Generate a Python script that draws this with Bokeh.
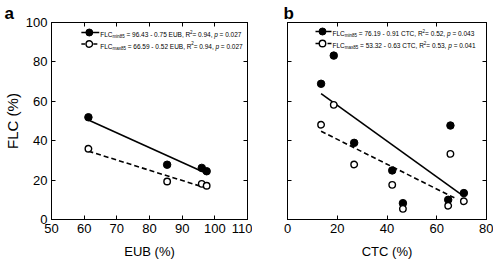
from bokeh.plotting import figure
from bokeh.models import LinearAxis, Range1d, FixedTicker, Label
from bokeh.layouts import row
from bokeh.embed import file_html
from bokeh.resources import INLINE

# ---------------- data ----------------
# Panel a: FLC vs EUB
eub = [61.3, 85.4, 96.0, 97.5]
flc_min85_a = [51.9, 27.8, 26.2, 24.5]
flc_max85_a = [35.9, 19.3, 18.1, 17.1]
fit_a_x = [61.3, 97.5]
fit_min_a = [50.5, 23.3]
fit_max_a = [34.7, 15.9]

# Panel b: FLC vs CTC
ctc = [13.5, 18.6, 26.8, 42.1, 46.4, 64.6, 65.5, 70.9]
flc_min85_b = [68.9, 83.2, 38.9, 24.9, 8.3, 10.0, 47.7, 13.4]
flc_max85_b = [48.1, 58.2, 27.9, 17.6, 5.4, 7.0, 33.3, 9.3]
fit_min_b_x = [13.5, 70.9]
fit_min_b = [63.9, 11.7]
fit_max_b_x = [13.5, 68.2]
fit_max_b = [44.8, 10.3]

xticks_a = [50, 60, 70, 80, 90, 100, 110]
xticks_b = [0, 20, 40, 60, 80]
yticks = [0, 20, 40, 60, 80, 100]

legend_a = [
    [("FLC", "n"), ("min85", "s"), (" = 96.43 - 0.75 EUB, R", "n"), ("2", "u"),
     ("= 0.94, ", "n"), ("p", "i"), (" = 0.027", "n")],
    [("FLC", "n"), ("max85", "s"), (" = 66.59 - 0.52 EUB, R", "n"), ("2", "u"),
     ("= 0.94, ", "n"), ("p", "i"), (" = 0.027", "n")],
]
legend_b = [
    [("FLC", "n"), ("min85", "s"), (" = 76.19 - 0.91 CTC, R", "n"), ("2", "u"),
     ("= 0.52, ", "n"), ("p", "i"), (" =  0.043", "n")],
    [("FLC", "n"), ("max85", "s"), (" = 53.32 - 0.63 CTC, R", "n"), ("2", "u"),
     ("= 0.53, ", "n"), ("p", "i"), (" = 0.041", "n")],
]

FONT = "Liberation Sans"
# Arial / Liberation Sans advance widths (per 1000 em)
WID = {" ": 278, "=": 584, "-": 333, ".": 278, ",": 278, "F": 611, "L": 556, "C": 722,
       "E": 667, "U": 722, "B": 667, "R": 722, "T": 611, "p": 556, "m": 833, "i": 222,
       "n": 556, "a": 556, "x": 500}


def tw(s, size):
    return sum(WID.get(c, 556) for c in s) / 1000.0 * size


def make_panel(width, height, xr, yr, frame, xticks, borders, xlabel, ylabel, ylabels,
               letter, letter_offset):
    L, R, T, B = frame
    p = figure(width=width, height=height, x_range=Range1d(*xr), y_range=Range1d(*yr),
               output_backend="svg", toolbar_location=None,
               min_border_left=borders[0], min_border_right=borders[1],
               min_border_top=borders[2], min_border_bottom=borders[3])
    p.title.text = letter
    p.title.text_font = FONT
    p.title.text_font_size = "17px"
    p.title.text_font_style = "bold"
    p.title.text_color = "black"
    p.title.align = "left"
    p.title.offset = letter_offset
    p.title.standoff = 0
    p.grid.visible = False
    p.outline_line_color = "black"
    p.outline_line_width = 1
    p.background_fill_color = "white"
    p.border_fill_color = "white"

    xa = p.xaxis[0]
    ya = p.yaxis[0]
    for ax, tk in ((xa, xticks), (ya, yticks)):
        ax.ticker = FixedTicker(ticks=tk, minor_ticks=[])
        ax.major_tick_in = 4
        ax.major_tick_out = 0
        ax.minor_tick_in = 0
        ax.minor_tick_out = 0
        ax.axis_line_color = "black"
        ax.major_tick_line_color = "black"
        ax.major_label_text_font = FONT
        ax.major_label_text_font_size = "13px"
        ax.major_label_text_color = "black"
        ax.axis_label_text_font = FONT
        ax.axis_label_text_font_style = "normal"
        ax.axis_label_text_color = "black"
    xa.major_label_standoff = 4
    xa.axis_label = xlabel
    xa.axis_label_text_font_size = "13px"
    xa.axis_label_standoff = 8
    ya.major_label_standoff = 4
    if ylabels:
        ya.axis_label = ylabel
        ya.axis_label_text_font_size = "15px"
        ya.axis_label_standoff = 2
    else:
        ya.major_label_text_color = None
        ya.major_label_text_font_size = "0px"
        ya.major_label_standoff = 0

    for loc, tk in (("above", xticks), ("right", yticks)):
        ax = LinearAxis(ticker=FixedTicker(ticks=tk, minor_ticks=[]),
                        major_tick_in=4, major_tick_out=0, minor_tick_in=0, minor_tick_out=0,
                        major_label_text_color=None, major_label_text_font_size="0px",
                        major_label_standoff=0, axis_line_color="black")
        p.add_layout(ax, loc)

    def px2x(px):
        return xr[0] + (px - L) / (R - L) * (xr[1] - xr[0])

    def px2y(py):
        return yr[0] + (B - py) / (B - T) * (yr[1] - yr[0])

    return p, px2x, px2y


def draw_series(p, x, y_min, y_max, fx_min, fy_min, fx_max, fy_max):
    p.line(fx_min, fy_min, line_color="black", line_width=1.6)
    p.line(fx_max, fy_max, line_color="black", line_width=1.6, line_dash="5 3")
    p.scatter(x, y_min, marker="circle", size=7.5, fill_color="black", line_color="black")
    p.scatter(x, y_max, marker="circle", size=6.5, fill_color="white", line_color="black",
              line_width=1.4)


def draw_legend(p, px2x, px2y, rows, sym_x0, sym_x1, text_x0, ys):
    base = 6.5
    small = 4.5
    for r, (pieces, yc) in enumerate(zip(rows, ys)):
        mx = (sym_x0 + sym_x1) / 2.0 - 1
        p.line([px2x(sym_x0), px2x(sym_x1)], [px2y(yc), px2y(yc)], line_color="black",
               line_width=1.6, line_dash="solid" if r == 0 else "4 2")
        if r == 0:
            p.scatter([px2x(mx)], [px2y(yc)], marker="circle", size=7, fill_color="black",
                      line_color="black")
        else:
            p.scatter([px2x(mx)], [px2y(yc)], marker="circle", size=6.5, fill_color="white",
                      line_color="black", line_width=1.4)
        x = text_x0
        for text, kind in pieces:
            size = small if kind in ("s", "u") else base
            dy = 2.0 if kind == "s" else (-3.0 if kind == "u" else 0.0)
            lead = len(text) - len(text.lstrip(" "))
            t = text.strip(" ")
            x_start = x + tw(" " * lead, size)
            p.add_layout(Label(x=px2x(x_start), y=px2y(yc + 2.3 + dy), text=t,
                               text_font=FONT, text_font_size=f"{size}px",
                               text_font_style="italic" if kind == "i" else "normal",
                               text_color="black", text_baseline="alphabetic",
                               text_align="left"))
            x += tw(text, size)


# ---------------- panel a ----------------
frame_a = (50, 247, 22, 219)
pa, ax_, ay_ = make_panel(252, 261, (50, 110), (0, 100), frame_a, xticks_a,
                          (50, 5, 22, 42), "EUB (%)", "FLC (%)", True, "a", -47)
draw_series(pa, eub, flc_min85_a, flc_max85_a, fit_a_x, fit_min_a, fit_a_x, fit_max_a)
draw_legend(pa, ax_, ay_, legend_a, 80, 98, 99, [32, 43.5])

# ---------------- panel b ----------------
frame_b = (287, 486, 22, 219)
pb, bx_, by_ = make_panel(241, 261, (0, 80), (0, 100), frame_b, xticks_b,
                          (35, 7, 22, 42), "CTC (%)", "", False, "b", -4)
draw_series(pb, ctc, flc_min85_b, flc_max85_b, fit_min_b_x, fit_min_b, fit_max_b_x, fit_max_b)
draw_legend(pb, bx_, by_, legend_b, 315, 331, 332, [31, 43])

layout = row(pa, pb, spacing=0)
open("out.html", "w").write(file_html(layout, INLINE))
